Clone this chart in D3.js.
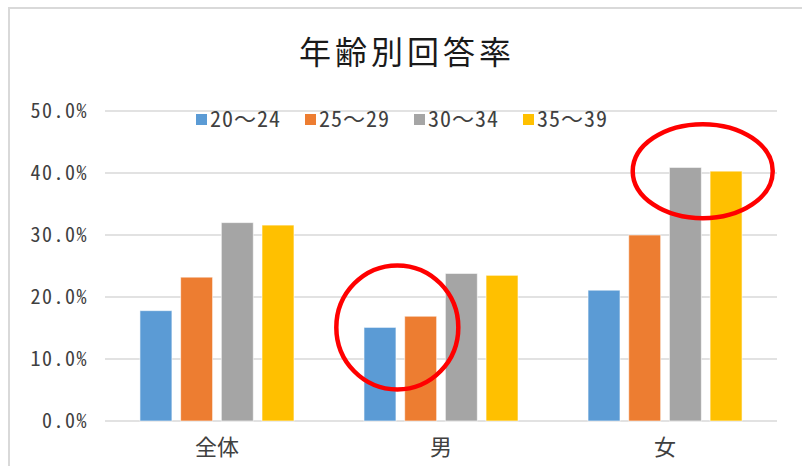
<!DOCTYPE html>
<html>
<head>
<meta charset="utf-8">
<script src="https://cdn.jsdelivr.net/npm/d3@7"></script>
<style>
  body { margin: 0; background: #fff; }
  text { font-family: "Noto Sans Mono CJK JP", "Noto Sans CJK JP", sans-serif; fill: #404040; }
</style>
</head>
<body>
<svg width="802" height="466"></svg>
<script>
var categories = ['全体', '男', '女'];
var seriesNames = ['20～24', '25～29', '30～34', '35～39'];
var colors = ['#5b9bd5', '#ed7d31', '#a5a5a5', '#ffc000'];
// percent per category, one array per age group
var s2024 = [17.8, 15.1, 21.1];
var s2529 = [23.2, 16.9, 30.0];
var s3034 = [32.0, 23.8, 40.9];
var s3539 = [31.6, 23.5, 40.3];
var yTicks = [0, 10, 20, 30, 40, 50];
// highlighted pairs (red rings)
var marks = [
  { cat: '男', a: 0, b: 1 },
  { cat: '女', a: 2, b: 3 }
];

var series = [s2024, s2529, s3034, s3539];
var data = categories.map(function(c, i) {
  return { cat: c, vals: series.map(function(s) { return s[i]; }) };
});

var svg = d3.select('svg');

// chart frame (cut at the right and bottom)
svg.append('path')
  .attr('d', 'M9,470 L9,8 L810,8')
  .attr('fill', 'none')
  .attr('stroke', '#d9d9d9')
  .attr('stroke-width', 2);

svg.append('text')
  .attr('x', 407)
  .attr('y', 64)
  .attr('text-anchor', 'middle')
  .style('font-size', '32px')
  .style('letter-spacing', '4px')
  .style('fill', '#1a1a1a')
  .text('年齢別回答率');

var plotL = 105, plotR = 777, plotT = 111, plotB = 421;

var x0 = d3.scaleBand().domain(categories).range([plotL, plotR])
  .paddingInner(0.3125).paddingOuter(0.156);
var x1 = d3.scaleBand().domain(d3.range(series.length)).range([0, x0.bandwidth()])
  .paddingInner(0.214);
var y = d3.scaleLinear().domain([0, 50]).range([plotB, plotT]);

// gridlines
svg.append('g').selectAll('line').data(yTicks).enter().append('line')
  .attr('x1', plotL).attr('x2', plotR)
  .attr('y1', function(d) { return y(d); })
  .attr('y2', function(d) { return y(d); })
  .attr('stroke', '#d9d9d9')
  .attr('stroke-width', 1.5);

var yAxis = svg.append('g')
  .attr('transform', 'translate(' + plotL + ',0)')
  .call(d3.axisLeft(y).tickValues(yTicks).tickSize(0).tickPadding(17)
    .tickFormat(function(d) { return d3.format('.1f')(d) + '%'; }));
yAxis.select('.domain').remove();
yAxis.selectAll('text')
  .style('font-size', '20px')
  .style('letter-spacing', '1.5px')
  .style('fill', '#404040');

var groups = svg.append('g').selectAll('g').data(data).enter().append('g')
  .attr('transform', function(d) { return 'translate(' + x0(d.cat) + ',0)'; });
groups.selectAll('rect').data(function(d) { return d.vals; }).enter().append('rect')
  .attr('x', function(d, i) { return x1(i); })
  .attr('y', function(d) { return y(d); })
  .attr('width', x1.bandwidth())
  .attr('height', function(d) { return plotB - y(d); })
  .attr('fill', function(d, i) { return colors[i]; })
  .attr('stroke', 'rgba(255,255,255,0.6)')
  .attr('stroke-width', 1);

var xAxis = svg.append('g')
  .attr('transform', 'translate(0,' + plotB + ')')
  .call(d3.axisBottom(x0).tickSize(0).tickPadding(18));
xAxis.select('.domain').remove();
xAxis.selectAll('text')
  .attr('dy', '0.71em')
  .style('font-size', '22px')
  .style('fill', '#404040');

// legend
var legend = svg.append('g').attr('transform', 'translate(196,114)');
var items = legend.selectAll('g').data(seriesNames).enter().append('g')
  .attr('transform', function(d, i) { return 'translate(' + (i * 109) + ',0)'; });
items.append('rect')
  .attr('width', 11).attr('height', 11)
  .attr('fill', function(d, i) { return colors[i]; });
items.append('text')
  .attr('x', 14)
  .attr('y', 13)
  .style('font-size', '22px')
  .style('letter-spacing', '1px')
  .style('fill', '#404040')
  .text(function(d) { return d; });

// red rings around highlighted bars
svg.append('g').selectAll('ellipse').data(marks).enter().append('ellipse')
  .attr('cx', function(m) {
    var gx = x0(m.cat);
    return gx + (x1(m.a) + x1(m.b) + x1.bandwidth()) / 2 - 3;
  })
  .attr('cy', function(m) {
    var vals = data[categories.indexOf(m.cat)].vals;
    return y(Math.min(vals[m.a], vals[m.b]));
  })
  .attr('rx', function(m, i) { return i === 0 ? 61 : 70; })
  .attr('ry', function(m, i) { return i === 0 ? 62 : 47; })
  .attr('fill', 'none')
  .attr('stroke', '#ff0000')
  .attr('stroke-width', 4.5);
</script>
</body>
</html>
